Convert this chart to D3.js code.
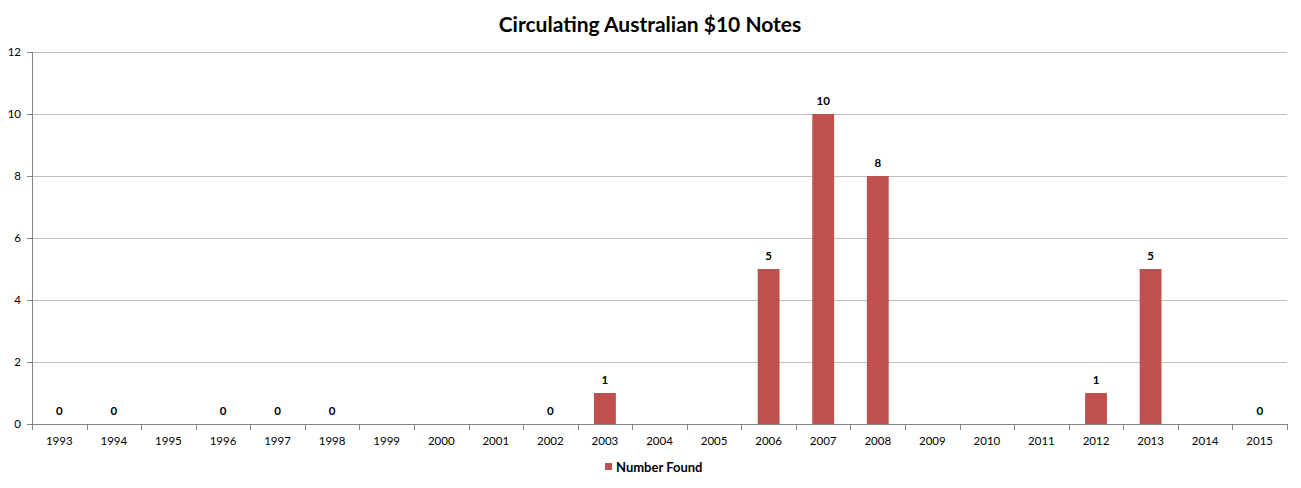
<!DOCTYPE html>
<html>
<head>
<meta charset="utf-8">
<script src="https://cdn.jsdelivr.net/npm/d3@7"></script>
<style>
  body { margin: 0; background: #fff; }
  svg text { font-family: Lato, "Open Sans", sans-serif; }
</style>
</head>
<body>
<div id="chart"></div>
<script>
const years = ["1993", "1994", "1995", "1996", "1997", "1998", "1999", "2000", "2001", "2002", "2003", "2004",
    "2005", "2006", "2007", "2008", "2009", "2010", "2011", "2012", "2013", "2014", "2015"];
// null = no data for that year (no bar, no label)
const numberFound = [0, 0, null, 0, 0, 0, null, null, null, 0, 1, null,
    null, 5, 10, 8, null, null, null, 1, 5, null, 0];
const yTicks = [0, 2, 4, 6, 8, 10, 12];
const seriesName = "Number Found";
const chartTitle = "Circulating Australian $10 Notes";

const W = 1301, H = 488;
const margin = { top: 52, right: 14, bottom: 64, left: 32 };
const width = W - margin.left - margin.right,
    height = H - margin.top - margin.bottom;

const svg = d3.select("#chart").append("svg")
    .attr("width", W)
    .attr("height", H);

svg.append("text")
    .attr("x", 650)
    .attr("y", 32)
    .attr("text-anchor", "middle")
    .style("font-size", "21px")
    .style("font-weight", "bold")
    .text(chartTitle);

const g = svg.append("g")
    .attr("transform", `translate(${margin.left}, ${margin.top})`);

const x = d3.scaleBand()
    .domain(years)
    .range([0, width])
    .paddingInner(0.6)
    .paddingOuter(0.3);

const y = d3.scaleLinear()
    .domain([0, 12])
    .range([height, 0]);

/* gridlines */
g.append("g")
    .selectAll("line")
    .data(yTicks.filter(d => d > 0))
    .join("line")
    .attr("x1", 0)
    .attr("x2", width)
    .attr("y1", d => Math.round(y(d)) + 0.5)
    .attr("y2", d => Math.round(y(d)) + 0.5)
    .attr("stroke", "#c0c0c0");

/* bars */
const pts = years.map((yr, i) => ({ year: yr, v: numberFound[i] })).filter(d => d.v !== null);

g.append("g")
    .selectAll("rect")
    .data(pts.filter(d => d.v > 0))
    .join("rect")
    .attr("x", d => x(d.year))
    .attr("y", d => y(d.v))
    .attr("width", x.bandwidth())
    .attr("height", d => height - y(d.v))
    .attr("fill", "#c0504d");

/* data labels */
g.append("g")
    .selectAll("text")
    .data(pts)
    .join("text")
    .attr("x", d => x(d.year) + x.bandwidth() / 2)
    .attr("y", d => y(d.v) - 9)
    .attr("text-anchor", "middle")
    .style("font-size", "11.5px")
    .style("font-weight", "bold")
    .text(d => d.v);

/* x axis: ticks at category boundaries */
const xAxis = g.append("g")
    .attr("transform", `translate(0, ${height})`);
xAxis.append("line")
    .attr("x1", 0).attr("x2", width)
    .attr("y1", 0.5).attr("y2", 0.5)
    .attr("stroke", "#868686");
const step = width / years.length;
xAxis.selectAll(".tk")
    .data(d3.range(years.length + 1))
    .join("line")
    .attr("class", "tk")
    .attr("x1", i => Math.round(i * step) + 0.5)
    .attr("x2", i => Math.round(i * step) + 0.5)
    .attr("y1", 0)
    .attr("y2", 6)
    .attr("stroke", "#868686");
xAxis.selectAll(".lbl")
    .data(years)
    .join("text")
    .attr("class", "lbl")
    .attr("x", d => x(d) + x.bandwidth() / 2)
    .attr("y", 21)
    .attr("text-anchor", "middle")
    .style("font-size", "11.5px")
    .text(d => d);

/* y axis */
const yAxis = g.append("g");
yAxis.append("line")
    .attr("x1", 0.5).attr("x2", 0.5)
    .attr("y1", 0).attr("y2", height)
    .attr("stroke", "#868686");
yAxis.selectAll(".tk")
    .data(yTicks)
    .join("line")
    .attr("class", "tk")
    .attr("x1", -5).attr("x2", 0)
    .attr("y1", d => Math.round(y(d)) + 0.5)
    .attr("y2", d => Math.round(y(d)) + 0.5)
    .attr("stroke", "#868686");
yAxis.selectAll(".lbl")
    .data(yTicks)
    .join("text")
    .attr("class", "lbl")
    .attr("x", -11)
    .attr("y", d => y(d))
    .attr("dy", "0.35em")
    .attr("text-anchor", "end")
    .style("font-size", "11.5px")
    .text(d => d);

/* legend */
const legend = svg.append("g").attr("transform", "translate(605, 467)");
legend.append("rect")
    .attr("x", 0).attr("y", -4)
    .attr("width", 7).attr("height", 7)
    .attr("fill", "#c0504d");
legend.append("text")
    .attr("x", 11)
    .attr("y", 0)
    .attr("dy", "0.35em")
    .style("font-size", "13px")
    .style("font-weight", "bold")
    .text(seriesName);
</script>
</body>
</html>
